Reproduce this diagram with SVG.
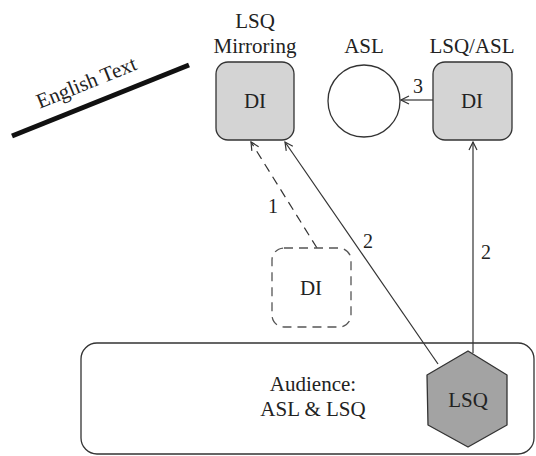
<svg xmlns="http://www.w3.org/2000/svg" width="536" height="456" viewBox="0 0 536 456">
  <style>
    text { font-family: "Liberation Serif", "Times New Roman", serif; font-size: 21px; fill: #222; text-anchor: middle; }
    .num { font-size: 20px; }
    .di { fill: #d4d4d4; stroke: #333; stroke-width: 1.3; }
    .dashed { fill: #fff; stroke: #555; stroke-width: 1.3; stroke-dasharray: 9 6; }
    .edge { fill: none; stroke: #333; stroke-width: 1.2; }
  </style>
  <defs>
    <marker id="arrow" viewBox="0 0 10 10" refX="9" refY="5" markerWidth="10" markerHeight="10" markerUnits="userSpaceOnUse" orient="auto">
      <path d="M1,1 L9,5 L1,9" fill="none" stroke="#333" stroke-width="1.2"/>
    </marker>
  </defs>

  <rect width="536" height="456" fill="#fff"/>

  <!-- English text track -->
  <g id="english-text">
    <line x1="12" y1="136" x2="189" y2="65" stroke="#111" stroke-width="5"/>
    <text x="89" y="89" transform="rotate(-22 89 89)">English Text</text>
  </g>

  <!-- audience area -->
  <g id="audience">
    <rect x="81" y="343" width="453" height="111" rx="16" fill="#fff" stroke="#333" stroke-width="1.3"/>
    <text x="313" y="391">Audience:</text>
    <text x="313" y="416">ASL &amp; LSQ</text>
  </g>

  <!-- connectors -->
  <g id="connectors">
    <line class="edge" x1="317" y1="248" x2="251" y2="142" stroke-dasharray="9 6" marker-end="url(#arrow)"/>
    <line class="edge" x1="438" y1="364" x2="285" y2="142" marker-end="url(#arrow)"/>
    <line class="edge" x1="473" y1="353" x2="473" y2="142" marker-end="url(#arrow)"/>
    <line class="edge" x1="433" y1="100" x2="401" y2="100" marker-end="url(#arrow)"/>
    <text class="num" x="273" y="213">1</text>
    <text class="num" x="368" y="248">2</text>
    <text class="num" x="486" y="259">2</text>
    <text class="num" x="418" y="93">3</text>
  </g>

  <!-- LSQ mirroring interpreter -->
  <g id="di-mirroring">
    <text x="255" y="28">LSQ</text>
    <text x="255" y="53">Mirroring</text>
    <rect class="di" x="216" y="62" width="78" height="78" rx="12"/>
    <text x="255" y="108">DI</text>
  </g>

  <!-- ASL output -->
  <g id="asl">
    <text x="364" y="53">ASL</text>
    <circle cx="364" cy="101" r="36" fill="#fff" stroke="#333" stroke-width="1.3"/>
  </g>

  <!-- LSQ/ASL interpreter -->
  <g id="di-lsq-asl">
    <text x="472" y="53">LSQ/ASL</text>
    <rect class="di" x="433" y="62" width="79" height="78" rx="12"/>
    <text x="472" y="108">DI</text>
  </g>

  <!-- optional interpreter -->
  <g id="di-optional">
    <rect class="dashed" x="272" y="248" width="79" height="79" rx="12"/>
    <text x="311" y="295">DI</text>
  </g>

  <!-- LSQ signer -->
  <g id="lsq">
    <polygon points="468,351 507,375 507,425 468,447 428,425 427,375" fill="#a3a3a3" stroke="#333" stroke-width="1.3" stroke-linejoin="round"/>
    <text x="468" y="407">LSQ</text>
  </g>
</svg>
